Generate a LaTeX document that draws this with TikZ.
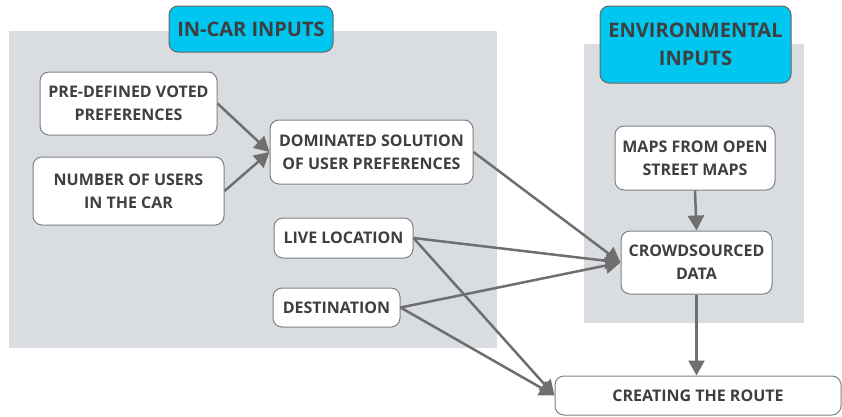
\documentclass[tikz,border=0pt]{standalone}
\usepackage{fontspec}
\setmainfont{Open Sans}
\usetikzlibrary{arrows.meta, positioning}
\definecolor{panelgrey}{HTML}{D9DDE1}
\definecolor{headcyan}{HTML}{00C6F0}
\definecolor{linegrey}{HTML}{6F6F6F}
\definecolor{textgrey}{HTML}{3F3F3F}
\begin{document}
\begin{tikzpicture}[x=1pt, y=-1pt,
  >={Triangle[length=15pt, width=16pt]},
  box/.style={draw=black!50, line width=1pt, fill=white, rounded corners=9pt, align=center,
    text=textgrey, inner sep=0pt, font=\fontsize{16}{23}\selectfont\bfseries},
  head/.style={box, fill=headcyan, draw=black!60, font=\fontsize{20}{28}\selectfont\bfseries},
  panel/.style={fill=panelgrey},
  link/.style={->, draw=linegrey, line width=2.5pt}]
  \useasboundingbox (0,0) rectangle (842,416);
  % grey input panels
  \fill[panel] (9,31) rectangle (497,348);
  \fill[panel] (584,44) rectangle (804,323);
  \node[head, minimum width=164pt, minimum height=46pt] (incar) at (251,29) {IN-CAR INPUTS};
  \node[head, minimum width=191pt, minimum height=77pt] (env) at (695.5,44.5) {ENVIRONMENTAL\\INPUTS};
  % in-car boxes
  \node[box, minimum width=177pt, minimum height=63pt] (pref) at (128.5,103.5) {PRE-DEFINED VOTED\\PREFERENCES};
  \node[box, minimum width=191pt, minimum height=68pt] (users) at (128.5,191) {NUMBER OF USERS\\IN THE CAR};
  \node[box, minimum width=203pt, minimum height=64pt] (dom) at (371.5,152) {DOMINATED SOLUTION\\OF USER PREFERENCES};
  \node[box, minimum width=139pt, minimum height=40pt] (live) at (343.5,238) {LIVE LOCATION};
  \node[box, minimum width=127pt, minimum height=39pt] (dest) at (336.5,307.5) {DESTINATION};
  % environmental boxes
  \node[box, minimum width=160pt, minimum height=64pt] (maps) at (695,158) {MAPS FROM OPEN\\STREET MAPS};
  \node[box, minimum width=151pt, minimum height=63pt] (crowd) at (696.5,262.5) {CROWDSOURCED\\DATA};
  \node[box, minimum width=286pt, minimum height=39pt] (route) at (698,395.5) {CREATING THE ROUTE};
  \draw[link] (pref.east) -- (dom.west);
  \draw[link] (users.east) -- (dom.west);
  \draw[link] (dom.east) -- (crowd.west);
  \draw[link] (live.east) -- (crowd.west);
  \draw[link] (dest.east) -- (crowd.west);
  \draw[link] (live.east) -- (route.west);
  \draw[link] (dest.east) -- (route.west);
  \draw[link] (maps.south) -- (crowd.north);
  \draw[link] (crowd.south) -- (crowd.south |- route.north);
\end{tikzpicture}
\end{document}
